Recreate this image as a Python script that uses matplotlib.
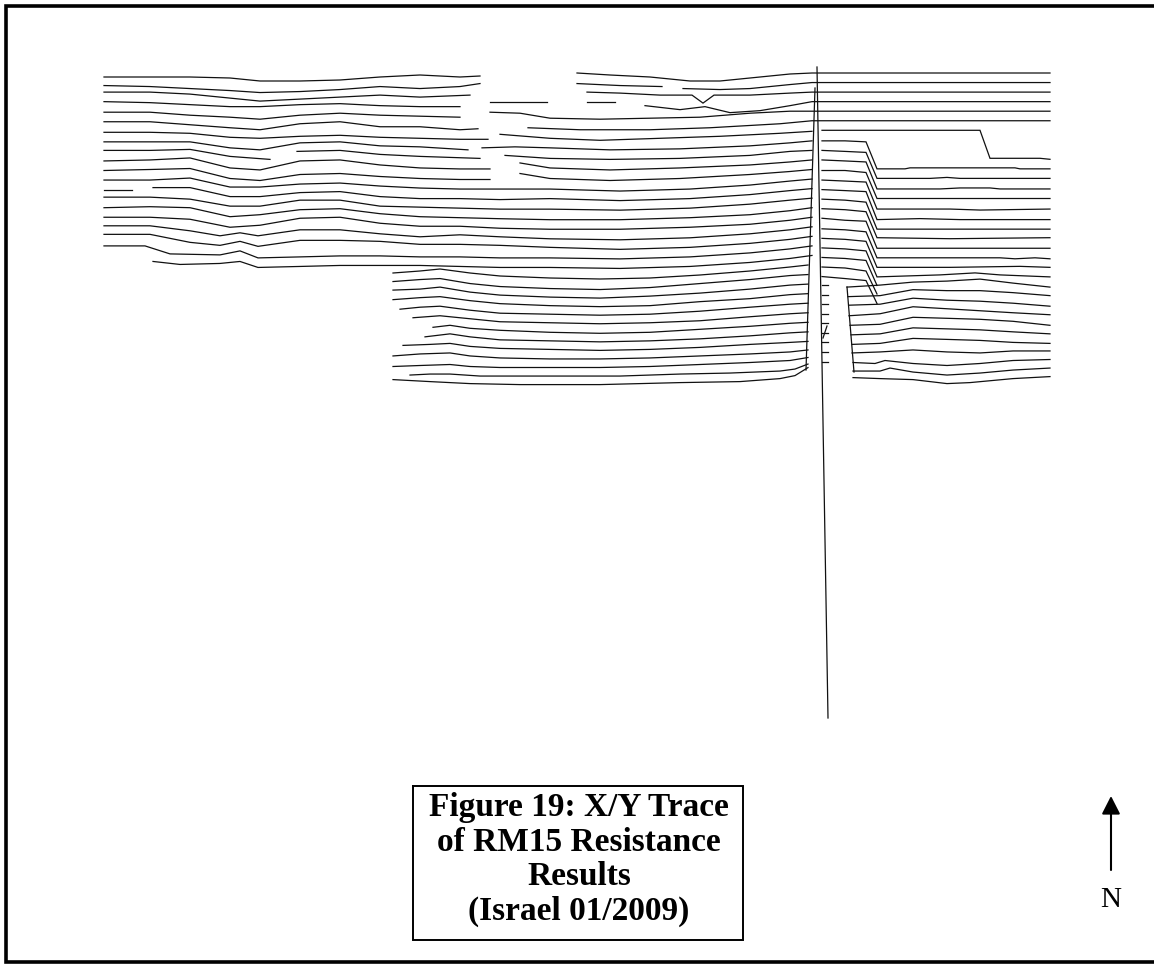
import matplotlib
matplotlib.use("Agg")
import matplotlib.pyplot as plt

# traverse layout on the page: y of traverse 0 and spacing between traverses
first_row_y = 74.0
row_spacing = 9.55

# west grid, traverses 0-19 ("x:offset" readings, "|" where the trace drops out)
# traverses 0-5 run straight on through the east grid
west_rows = [
    "104:3 150:3 190:3 230:4 260:7 300:7 340:6 380:3 420:1 460:3 480:2 | 577:-1 610:1 650:3 690:7 720:7 750:4 790:0 812:-1 1050:-1",
    "104:2 150:3 190:5 230:7 260:9 300:8 340:6 380:3 420:5 460:3 480:0 | 577:0 620:2 662:3 | 683:5 720:6 750:5 790:1 812:-1 1050:-1",
    "104:-1 150:-1 190:1 230:5 260:8 300:6 340:4 380:2 420:4 470:2 | 587:-1 620:0 660:2 692:2 703:10 714:2 750:2 790:0 812:-1 1050:-1",
    "104:-1 150:0 190:2 230:4 260:4 300:2 340:1 380:3 420:4 460:4 | 490:-1 547:-1 | 587:-1 615:-1 | 645:3 680:7 705:4 730:10 760:8 790:3 812:-1 1050:-1",
    "104:0 150:0 190:3 230:5 260:7 300:3 340:1 380:3 420:4 460:5 | 490:0 520:1 550:6 600:7 650:6 700:5 750:1 790:-1 812:-1 1050:-1",
    "104:0 150:0 190:3 230:6 260:8 300:2 340:0 380:5 420:5 460:8 478:7 | 528:6 580:8 650:8 710:6 780:2 812:-1 1050:-1",
    "104:1 150:1 190:2 230:6 260:7 300:5 340:4 380:6 420:7 460:8 488:8 | 500:3 550:7 600:9 660:7 720:5 780:2 812:0",
    "104:1 150:1 190:1 230:7 260:9 300:2 340:1 380:5 420:6 468:9 | 482:7 515:6 550:7 610:9 680:8 750:5 790:2 812:0",
    "104:0 150:0 190:-1 230:6 270:9 | 297:1 340:0 380:4 420:6 480:8 | 505:5 550:8 610:9 680:8 750:5 790:1 812:0",
    "104:1 150:0 190:-2 230:8 260:10 300:1 340:0 380:5 420:8 460:9 490:9 | 520:3 550:8 610:10 680:8 750:5 790:2 812:0",
    "104:1 150:0 190:-1 230:9 260:11 300:5 340:4 380:7 420:9 460:10 490:10 | 520:4 550:9 610:11 680:9 750:5 790:2 812:0",
    "104:1 150:1 190:-1 230:8 260:8 300:5 340:4 380:7 420:9 460:10 500:10 550:10 620:12 690:10 750:6 790:2 812:0",
    "104:1 132:1 | 153:-1 190:-1 230:8 260:8 300:4 340:3 380:8 420:10 460:10 500:11 550:10 620:12 690:10 750:6 790:2 812:0",
    "104:-1 150:-1 190:1 230:8 260:8 300:2 340:2 380:8 420:9 460:10 500:11 550:11 620:12 690:10 750:6 790:2 812:0",
    "104:0 150:-1 190:0 230:9 260:7 300:2 340:1 380:6 420:9 460:10 500:11 550:12 620:12 690:10 750:7 790:3 812:0",
    "104:0 150:0 190:2 230:10 260:8 300:1 340:0 380:6 420:9 460:9 500:11 550:12 620:12 690:10 750:7 790:3 812:0",
    "104:-1 150:-1 190:4 220:9 240:6 258:9 300:3 340:3 380:7 420:10 460:8 500:10 550:12 620:13 690:11 750:7 790:3 812:0",
    "104:-2 150:-2 190:6 220:9 240:5 258:10 300:4 340:4 380:5 420:8 460:8 500:9 550:11 620:13 690:11 750:7 790:3 812:0",
    "104:0 145:0 170:8 220:9 240:5 258:12 300:11 340:10 380:10 420:11 460:11 500:12 550:12 620:13 690:11 750:7 790:3 812:0",
    "153:6 180:9 220:8 240:6 258:12 300:11 340:10 380:10 420:10 460:11 500:12 550:12 620:13 690:11 750:7 790:3 812:0",
]

# south-west grid, traverses 20-32
south_first = 20
south_rows = [
    "393:8 420:6 440:4 470:8 500:11 550:13 600:14 650:13 700:10 750:6 790:2 808:0",
    "393:7 420:5 440:4 470:9 500:12 550:14 600:15 650:13 700:9 750:5 790:1 808:0",
    "393:6 420:5 440:3 470:8 500:11 550:13 600:14 650:12 700:9 750:5 790:1 808:0",
    "393:6 420:4 440:3 470:7 500:10 550:12 600:13 650:12 700:8 750:5 790:1 808:0",
    "400:6 420:4 440:3 470:7 500:10 550:11 600:12 650:11 700:8 750:4 790:1 808:0",
    "413:5 440:3 470:6 500:9 550:10 600:11 650:10 700:8 750:4 790:1 808:0",
    "433:5 450:3 470:6 500:8 550:10 600:11 650:10 700:7 750:4 790:1 808:0",
    "425:5 450:2 470:5 500:8 550:9 600:10 650:9 700:7 750:4 790:1 808:0",
    "403:4 430:3 450:2 470:5 500:7 550:8 600:9 650:8 700:6 750:3 790:1 808:0",
    "393:5 420:3 450:2 470:5 500:7 550:8 600:8 650:7 700:5 750:3 790:1 808:-1",
    "393:6 420:5 450:4 470:6 500:7 550:7 600:7 650:6 700:4 750:2 790:0 808:-3",
    "410:5 430:4 450:4 480:6 520:6 560:6 620:6 680:4 730:3 780:1 795:-1 808:-6",
    "393:0 430:2 470:4 520:5 600:5 680:3 740:2 780:-1 795:-4 808:-12",
]

# east grid, traverses 6-21: logger jumped three traverses part way along
east_first = 6
east_rows = [
    "822:-1 980:-1 990:27 1040:27 1050:28",
    "822:0 845:0 866:1 877:28 905:28 910:27 1015:27 1020:28 1050:28",
    "822:0 845:1 866:2 877:28 930:28 947:27 960:28 1050:28",
    "822:0 845:1 866:2 877:29 940:29 960:28 990:28 1000:29 1050:29",
    "822:1 845:1 866:3 877:29 950:29 1050:29",
    "822:1 845:2 866:3 877:30 950:30 980:31 1050:30",
    "822:1 845:2 866:3 877:31 920:30 960:31 1050:31",
    "822:1 845:2 866:4 877:31 1050:31",
    "822:1 845:2 866:4 877:30 950:31 1050:30",
    "822:1 845:3 866:4 877:31 1050:31",
    "822:2 845:3 866:5 877:31 1000:31 1015:32 1035:31 1050:32",
    "822:2 845:3 866:5 877:31 950:31 1020:30 1050:31",
    "822:2 845:3 866:5 877:31 940:29 975:27 1000:29 1050:31",
    "822:2 845:3 866:5 877:30",
    "822:2 845:3 866:6 877:29",
    "822:2 845:4 866:6 877:29",
]

# south-east grid, traverses 22-32
southeast_first = 22
southeast_rows = [
    "822:1 828:1 | 847:3 880:1 913:-2 947:-3 980:-5 1013:-1 1050:3",
    "822:1 828:1 | 848:3 880:2 913:-4 947:-3 980:-3 1013:-1 1050:2",
    "822:1 828:1 | 849:2 880:1 913:-5 947:-3 980:-2 1013:0 1050:3",
    "822:1 828:1 | 849:3 880:1 913:-6 947:-4 980:-2 1013:0 1050:2",
    "822:1 828:1 | 850:3 880:2 913:-5 947:-4 980:-3 1013:-1 1050:3",
    "822:1 828:1 | 851:3 880:2 913:-4 947:-3 980:-2 1013:0 1050:2",
    "822:1 828:1 | 852:3 880:2 913:-3 947:-2 980:-1 1013:1 1050:2",
    "822:1 828:1 | 852:2 880:1 913:-1 947:1 980:2 1013:0 1050:0",
    "822:1 828:1 | 853:2 875:3 885:0 913:3 947:5 980:3 1013:0 1050:-1",
    "853:1 880:1 890:-2 913:2 947:5 980:3 1013:0 1050:-2",
    "853:-2 880:-1 913:0 947:4 970:3 1013:-1 1050:-3",
]

# straight joins the logger drew between grid sections (x0, y0, x1, y1)
joins = [
    (817, 67, 828, 718),
    (815, 88, 806, 370),
    (847, 287, 854, 372),
    (823, 338, 827, 326),
]

caption = ["Figure 19: X/Y Trace", "of RM15 Resistance", "Results", "(Israel 01/2009)"]

fig = plt.figure(figsize=(11.54, 9.64), dpi=100)
ax = fig.add_axes([0, 0, 1, 1])
ax.set_xlim(0, 1154)
ax.set_ylim(964, 0)
ax.axis("off")

line_kw = dict(color="#111111", lw=0.9, solid_joinstyle="miter")


def draw_traverse(row, text):
    base = first_row_y + row_spacing * row
    for part in text.split("|"):
        pts = [p.split(":") for p in part.split()]
        xs = [float(a) for a, b in pts]
        ys = [base + float(b) for a, b in pts]
        ax.plot(xs, ys, **line_kw)


for i, t in enumerate(west_rows):
    draw_traverse(i, t)
for i, t in enumerate(south_rows):
    draw_traverse(south_first + i, t)
for i, t in enumerate(east_rows):
    draw_traverse(east_first + i, t)
for i, t in enumerate(southeast_rows):
    draw_traverse(southeast_first + i, t)
for x0, y0, x1, y1 in joins:
    ax.plot([x0, x1], [y0, y1], **line_kw)

# page frame (open on the right, runs off the page)
ax.plot([1160, 6, 6, 1160], [6, 6, 962, 962], color="black", lw=2.6,
        solid_joinstyle="miter", clip_on=True)

# caption box
ax.plot([413, 743, 743, 413, 413], [786, 786, 940, 940, 786], color="black", lw=1.4,
        solid_joinstyle="miter")
for k, s in enumerate(caption):
    ax.text(579, 816 + 34.7 * k, s, ha="center", va="baseline",
            fontsize=24, fontweight="bold", family="Liberation Serif")

# north arrow
ax.annotate("", xy=(1111, 796), xytext=(1111, 870),
            arrowprops=dict(arrowstyle="-|>,head_length=0.55,head_width=0.28",
                            mutation_scale=20, lw=1.5, color="black",
                            shrinkA=0, shrinkB=0))
ax.text(1111, 907, "N", ha="center", va="baseline", fontsize=21,
        family="Liberation Serif")

fig.savefig("out.png", dpi=100, facecolor="white")
